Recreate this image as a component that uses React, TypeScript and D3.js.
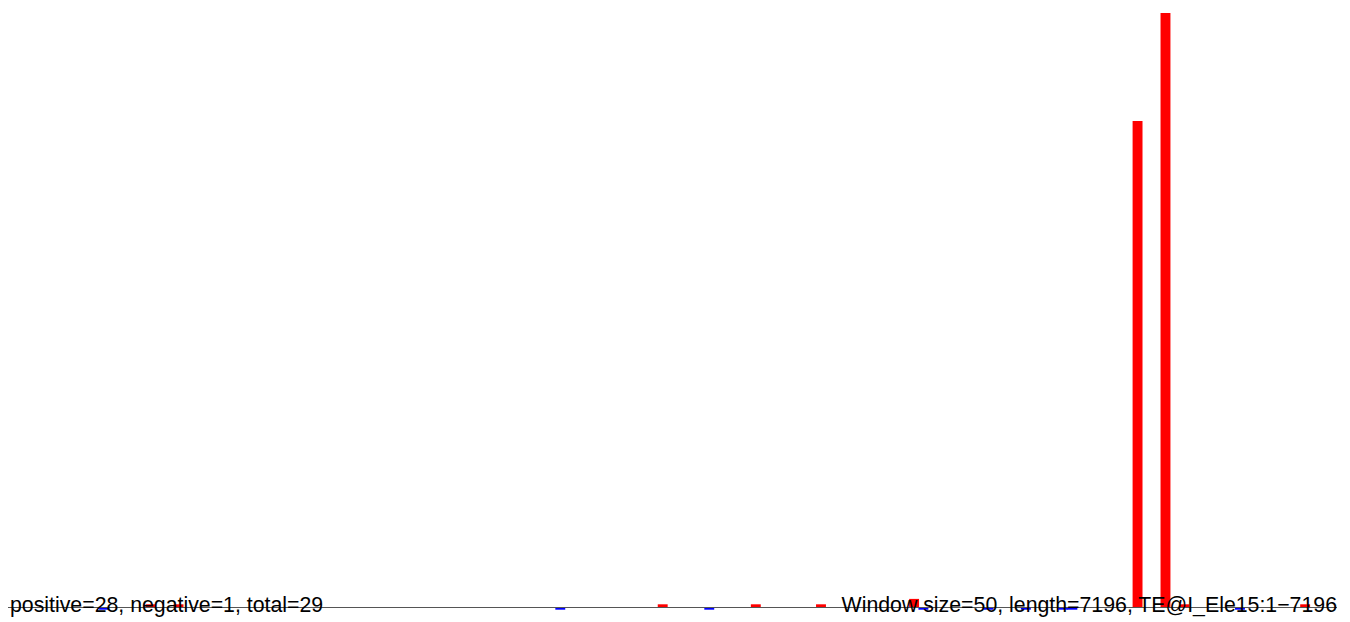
import * as d3 from "d3";

// window start (bp) and signed score per window
const windowSize = 50;
const seqLength = 7196;
const positions = [500, 750, 900, 2950, 3500, 3750, 4000, 4350, 4850, 4900, 5250, 5450, 5650, 5700, 6050, 6200, 6300, 6600, 6950];
const values = [-1, 1, 1, -1, 1, -1, 1, 1, 3, -1, -1, -1, -1, -1, 180, 220, 1, -1, 1];

const leftLabel = "positive=28, negative=1, total=29";
const rightLabel = "Window size=50, length=7196, TE@I_Ele15:1\u22127196";

export default function App() {
  const width = 1350;
  const height = 622;

  const x = d3.scaleLinear([0, seqLength], [6, 1346]);
  const y = d3.scaleLinear([0, 220], [607, 13]);
  const bw = x(windowSize) - x(0);

  const data = positions.map((p, i) => ({ pos: p, v: values[i] }));

  return (
    <svg
      width={width}
      height={height}
      style={{ position: "absolute", left: 0, top: 0, background: "white" }}
      fontFamily="'Liberation Sans', Arial, sans-serif"
    >
      {data.map((d, i) => (
        <rect
          key={i}
          x={x(d.pos)}
          y={Math.min(y(d.v), y(0))}
          width={bw + 0.6}
          height={Math.abs(y(d.v) - y(0))}
          fill={d.v >= 0 ? "red" : "blue"}
        />
      ))}
      <line x1={8} x2={1337} y1={y(0) + 0.5} y2={y(0) + 0.5} stroke="#555" strokeWidth={1} />
      <text x={10} y={612} fontSize={21.3} fill="black">{leftLabel}</text>
      <text x={1337} y={612} fontSize={21.3} fill="black" textAnchor="end">{rightLabel}</text>
    </svg>
  );
}
